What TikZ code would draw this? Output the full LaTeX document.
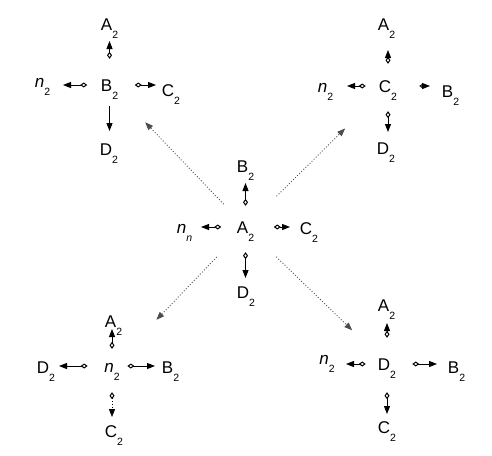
\documentclass[tikz,border=0pt]{standalone}
\usepackage{fontspec}
\setmainfont{Liberation Sans}
\usetikzlibrary{arrows.meta}

\newcommand\subs[1]{\raisebox{-8pt}{\fontsize{10.5}{12}\selectfont #1}}

\begin{document}
\begin{tikzpicture}[
    x=1pt, y=-1pt,
    lbl/.style={inner sep=0pt, text height=12pt, text depth=0pt,
                font=\fontsize{17}{20}\selectfont},
    link/.style={{Diamond[open, length=7pt, width=5pt]}-{Triangle[length=8pt, width=6pt]},
                 line width=1pt},
    plain/.style={-{Triangle[length=8pt, width=6pt]}, line width=1pt},
    hop/.style={-{Triangle[length=8pt, width=6pt]}, dotted, black!70, line width=0.9pt},
]
\useasboundingbox[fill=white] (0,0) rectangle (492,455);

% centre
\node[lbl] (a)  at (245.5,227) {A\subs{2}};
\node[lbl] (ab) at (245.5,166) {B\subs{2}};
\node[lbl] (an) at (184.5,227) {\textit{n}\subs{\textit{n}}};
\node[lbl] (ac) at (309,228)   {C\subs{2}};
\node[lbl] (ad) at (246,292)   {D\subs{2}};

\draw[link, shorten <=15pt, shorten >=17pt]   (a) -- (a |- ab);
\draw[link, shorten <=15.5pt, shorten >=16.5pt] (a) -- (a -| an);
\draw[link, shorten <=19.5pt, shorten >=19pt] (a) -- (a -| ac);
\draw[link, shorten <=19pt, shorten >=14pt]   (a) -- (a |- ad);

% top left
\node[lbl] (b)  at (109.5,85) {B\subs{2}};
\node[lbl] (ba) at (109.5,24) {A\subs{2}};
\node[lbl] (bn) at (42.5,81)  {\textit{n}\subs{2}};
\node[lbl] (bc) at (171,90)   {C\subs{2}};
\node[lbl] (bd) at (109,149)  {D\subs{2}};

\draw[link, shorten <=20pt, shorten >=17pt]     (b) -- (b |- ba);
\draw[link, shorten <=13.5pt, shorten >=20.5pt] (b) -- (b -| bn);
\draw[link, shorten <=16.5pt, shorten >=15pt]   (b) -- (b -| bc);
\draw[plain, shorten <=15pt, shorten >=18pt]    (b) -- (b |- bd);

% top right
\node[lbl] (c)  at (388,86)    {C\subs{2}};
\node[lbl] (ca) at (386.5,24)  {A\subs{2}};
\node[lbl] (cn) at (325.5,86)  {\textit{n}\subs{2}};
\node[lbl] (cb) at (450.5,91)  {B\subs{2}};
\node[lbl] (cd) at (386,148)   {D\subs{2}};

\draw[link, shorten <=16pt, shorten >=26pt]   (c) -- (c |- ca);
\draw[link, shorten <=13pt, shorten >=21.5pt] (c) -- (c -| cn);
\draw[link, shorten <=22pt, shorten >=20.5pt] (c) -- (c -| cb);
\draw[link, shorten <=19pt, shorten >=16pt]   (c) -- (c |- cd);

% bottom left
\node[lbl] (n)  at (112,366)   {\textit{n}\subs{2}};
\node[lbl] (na) at (113.5,321) {A\subs{2}};
\node[lbl] (nd) at (46,367)    {D\subs{2}};
\node[lbl] (nb) at (170.5,367) {B\subs{2}};
\node[lbl] (nc) at (114,431)   {C\subs{2}};

\draw[link, shorten <=11pt, shorten >=8pt]      (n) -- (n |- na);
\draw[link, shorten <=16.5pt, shorten >=13pt]   (n) -- (n -| nd);
\draw[link, shorten <=7.5pt, shorten >=15.5pt]  (n) -- (n -| nb);
\draw[link, dotted, shorten <=20pt, shorten >=14pt] (n) -- (n |- nc);

% bottom right
\node[lbl] (d)  at (387,364)   {D\subs{2}};
\node[lbl] (da) at (386.5,305) {A\subs{2}};
\node[lbl] (dn) at (327,358)   {\textit{n}\subs{2}};
\node[lbl] (db) at (456.5,367) {B\subs{2}};
\node[lbl] (dc) at (387,427)   {C\subs{2}};

\draw[link, shorten <=20pt, shorten >=18pt]   (d) -- (d |- da);
\draw[link, shorten <=12pt, shorten >=19pt]   (d) -- (d -| dn);
\draw[link, shorten <=16pt, shorten >=19.5pt] (d) -- (d -| db);
\draw[link, shorten <=22pt, shorten >=13pt]   (d) -- (d |- dc);

% hops from the centre
\draw[hop, shorten <=23pt, shorten >=43pt]   (a) -- (b);
\draw[hop, shorten <=35pt, shorten >=51.5pt] (a) -- (c);
\draw[hop, shorten <=33pt, shorten >=55.5pt] (a) -- (n);
\draw[hop, shorten <=34pt, shorten >=39.5pt] (a) -- (d);
\end{tikzpicture}
\end{document}
